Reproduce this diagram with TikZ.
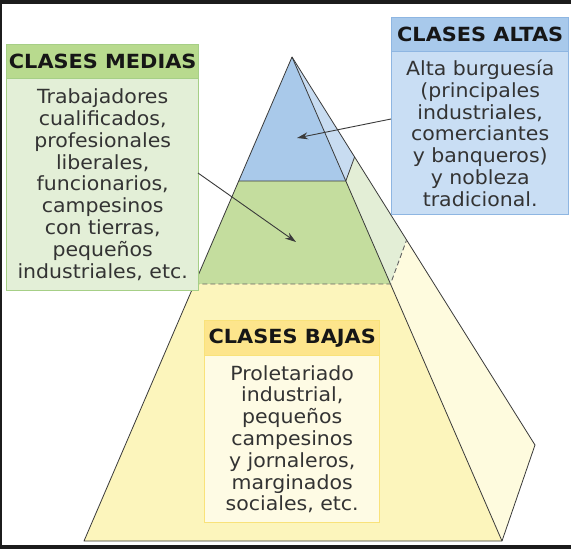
\documentclass[tikz,border=0pt]{standalone}
\usepackage{fontspec}
\setmainfont{DejaVu Sans}[FakeStretch=1.05]
\newfontfamily\hdrfamily{DejaVu Sans}[FakeStretch=1.07]
\usetikzlibrary{arrows.meta}
\definecolor{framec}{HTML}{1C1C1C}
\definecolor{edgec}{HTML}{3A3A3A}
\definecolor{fblue}{HTML}{A9C9EA}
\definecolor{sblue}{HTML}{C8DCF1}
\definecolor{fgreen}{HTML}{C4DD9E}
\definecolor{sgreen}{HTML}{E3EED6}
\definecolor{fyellow}{HTML}{FCF5BC}
\definecolor{syellow}{HTML}{FEFBDE}
\definecolor{mhdr}{HTML}{B8DA8E}
\definecolor{mbody}{HTML}{E3EFD7}
\definecolor{mline}{HTML}{A6CF86}
\definecolor{ahdr}{HTML}{A8C9EB}
\definecolor{abody}{HTML}{C9DEF4}
\definecolor{aline}{HTML}{8EB6E2}
\definecolor{bhdr}{HTML}{FDE58C}
\definecolor{bbody}{HTML}{FEFBE4}
\definecolor{bline}{HTML}{F9E27A}
\definecolor{txt}{HTML}{333333}
\definecolor{htxt}{HTML}{161616}
\tikzset{
  hdr/.style={minimum height=34pt, inner sep=0pt, anchor=north west, line width=1.4pt,
    font=\hdrfamily\bfseries\fontsize{19.5}{22}\selectfont, text=htxt},
  bodybox/.style={inner sep=0pt, anchor=north west, line width=1.4pt, align=center,
    font=\fontsize{19.5}{21.8}\selectfont, text=txt},
  edge/.style={draw=edgec, line width=0.8pt, line join=round},
  dashedge/.style={draw=edgec!80, line width=0.9pt, dash pattern=on 5pt off 3pt},
  arr/.style={draw=edgec, line width=0.9pt, -{Stealth[length=11pt,width=7pt]}}
}
\begin{document}
\begin{tikzpicture}[x=1pt,y=-1pt]
\useasboundingbox (0,0) rectangle (571,549);
\fill[white] (0,0) rectangle (571,549);
\fill[framec] (0,0) rectangle (571,4);
\fill[framec] (0,545) rectangle (571,549);
\fill[framec] (0,0) rectangle (1.5,549);
% pyramid points
\coordinate (A) at (292,57);
\coordinate (BL) at (84,541);
\coordinate (BR) at (502,541);
\coordinate (BK) at (535,445);
\coordinate (L1) at (238.7,181);
\coordinate (R1) at (345.8,181);
\coordinate (L2) at (194.4,284);
\coordinate (R2) at (390.5,284);
\coordinate (K1) at (354.6,157);
\coordinate (K2) at (406.6,240);
% side face
\fill[sblue] (A) -- (R1) -- (K1) -- cycle;
\fill[sgreen] (R1) -- (R2) -- (K2) -- (K1) -- cycle;
\fill[syellow] (R2) -- (BR) -- (BK) -- (K2) -- cycle;
% front face
\fill[fblue] (A) -- (L1) -- (R1) -- cycle;
\fill[fgreen] (L1) -- (L2) -- (R2) -- (R1) -- cycle;
\fill[fyellow] (L2) -- (BL) -- (BR) -- (R2) -- cycle;
% edges
\draw[edge] (A) -- (BL) -- (BR) -- (BK) -- cycle;
\draw[edge] (A) -- (BR);
\draw[edge] (L1) -- (R1) -- (K1);
\draw[dashedge] (L2) -- (R2) -- (K2);
% boxes
\node[hdr, draw=mline, fill=mhdr, minimum width=192pt] (mh) at (6,44) {CLASES MEDIAS};
\node[bodybox, draw=mline, fill=mbody, minimum width=192pt, minimum height=212pt] (mb) at (6,78)
  {Trabajadores\\cualificados,\\profesionales\\liberales,\\funcionarios,\\campesinos\\con tierras,\\pequeños\\industriales, etc.};
\node[hdr, draw=aline, fill=ahdr, minimum width=177pt] (ah) at (391,17) {CLASES ALTAS};
\node[bodybox, draw=aline, fill=abody, minimum width=177pt, minimum height=163pt] (ab) at (391,51)
  {Alta burguesía\\(principales\\industriales,\\comerciantes\\y banqueros)\\y nobleza\\tradicional.};
\node[hdr, draw=bline, fill=bhdr, minimum width=175pt, minimum height=35pt] (bh) at (204,320) {CLASES BAJAS};
\node[bodybox, draw=bline, fill=bbody, minimum width=175pt, minimum height=167pt] (bb) at (204,355)
  {Proletariado\\industrial,\\pequeños\\campesinos\\y jornaleros,\\marginados\\sociales, etc.};
% arrows
\coordinate (as) at (391,119);
\coordinate (at) at (297,138);
\coordinate (ms) at (198,173);
\coordinate (mt) at (296,242);
\draw[arr] (as) -- (at);
\draw[arr] (ms) -- (mt);
\end{tikzpicture}
\end{document}
